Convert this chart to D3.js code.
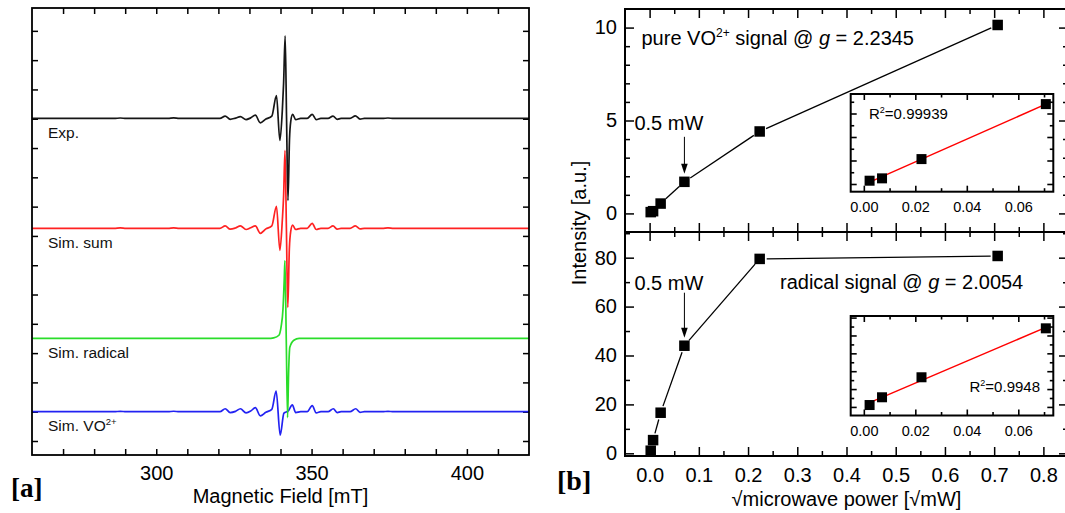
<!DOCTYPE html>
<html><head><meta charset="utf-8">
<script src="https://cdn.jsdelivr.net/npm/d3@7"></script>
<style>body{margin:0;background:#fff} svg{display:block}</style>
</head><body><svg id="c" width="1065" height="513"></svg>
<script>
// ================= DATA =================
// Panel (a): EPR spectra, [field (mT), intensity (a.u.)]
const fieldTickLabels = [300, 350, 400];
const traceNames = ["Exp.", "Sim. sum", "Sim. radical", "Sim. VO"];
const traceOffsets = [11.01, 7.26, 3.5, 1.0];
const expTrace = [[260,0],[286.5,0],[288.4,0.015],[290.3,0],[303.8,0],[305.6,0.02],[307.4,0],[320.5,0],[322.2,0.08],[323.8,-0.03],[325.5,0.01],[327.1,0.06],[328.9,-0.04],[330.4,0.02],[331.9,0.11],[333.5,-0.15],[335.3,-0.02],[337.2,0.08],[338.7,0.78],[339.8,-0.75],[340.6,0.3],[341.0,1.2],[341.5,2.82],[341.95,0],[342.4,-2.8],[342.9,-0.7],[343.3,-0.1],[343.9,0.14],[344.9,-0.04],[346.5,0],[348.6,0],[350.2,0.14],[351.5,-0.04],[353,0],[355.3,0],[356.9,0.08],[358.3,-0.03],[359.5,0],[362.4,0],[364.1,0.09],[365.6,-0.02],[367,0],[372.8,0],[374.6,0.015],[376.4,0],[420,0]];
const sumTrace = [[260,0],[286.5,0],[288.4,0.012],[290.3,0],[303.8,0],[305.6,0.015],[307.4,0],[320.5,0],[322.2,0.08],[323.8,-0.03],[325.5,0.01],[327.1,0.08],[328.9,-0.04],[330.4,0.02],[331.9,0.08],[333.5,-0.17],[335.3,-0.02],[337.2,0.08],[338.7,0.75],[339.8,-0.75],[340.6,0.3],[341.0,1.1],[341.45,2.66],[341.9,0],[342.35,-2.7],[342.85,-0.7],[343.3,-0.1],[343.9,0.11],[344.9,-0.04],[346.5,0],[348.6,0],[350.2,0.17],[351.5,-0.04],[353,0],[355.3,0],[356.9,0.08],[358.3,-0.03],[359.5,0],[362.4,0],[364.1,0.08],[365.6,-0.02],[367,0],[372.8,0],[374.6,0.012],[376.4,0],[420,0]];
const radicalTrace = [[260,0],[336,0],[337.8,0.02],[339.5,0.11],[340.2,0.4],[340.8,1.0],[341.2,2.0],[341.42,2.66],[341.85,0],[342.28,-2.7],[342.6,-1.2],[343.0,-0.3],[344.3,-0.06],[346,0],[420,0]];
const voTrace = [[260,0],[286.5,0],[288.4,0.012],[290.3,0],[303.8,0],[305.6,0.015],[307.4,0],[320.5,0],[322.2,0.1],[323.8,-0.03],[325.5,0.01],[327.1,0.1],[328.9,-0.04],[330.4,0.02],[331.9,0.14],[333.5,-0.14],[335.3,-0.02],[337.2,0.08],[338.6,0.7],[339.9,-0.8],[341.1,-0.05],[342.5,0.03],[343.8,0.23],[344.9,-0.03],[346.5,0],[348.6,0],[350.2,0.21],[351.5,-0.04],[353,0],[355.3,0],[357,0.1],[358.3,-0.03],[359.5,0],[362.4,0],[364.2,0.1],[365.6,-0.02],[367,0],[372.8,0],[374.6,0.012],[376.4,0],[420,0]];

// Panel (b): saturation curves
const sqrtPower = [0.00224, 0.00707, 0.0224, 0.0707, 0.2236, 0.7071];
const vo2Intensity = [0.07, 0.12, 0.53, 1.7, 4.41, 10.14];
const radicalIntensity = [1.06, 5.4, 16.6, 44, 79.5, 80.7];
const insetPoints = 4;                       // first 4 points shown in insets
const powerTickLabels = [0,0.1,0.2,0.3,0.4,0.5,0.6,0.7,0.8];
const vo2TickLabels = [0, 5, 10];
const radTickLabels = [0, 20, 40, 60, 80];
const insetTickLabels = [0, 0.02, 0.04, 0.06];
const r2Values = ["0.99939", "0.9948"];

// ================= DRAW =================
const FONT = "'Liberation Sans', Arial, Helvetica, sans-serif";
const svg = d3.select("#c");

function styleAxis(g, fs) {
  g.attr("font-family", FONT).attr("font-size", fs);
  g.select(".domain").remove();
  g.selectAll(".tick line").attr("stroke", "#000").attr("stroke-width", 1.5);
  g.selectAll(".tick text").attr("fill", "#000");
}

// ---------- Panel (a) ----------
const xA = d3.scaleLinear().domain([260, 420]).range([32, 529]);
const yA = d3.scaleLinear().domain([-0.478, 14.78]).range([455, 8]);
const gA = svg.append("g");
const fieldTicks = d3.range(270, 420, 10);
gA.append("g").attr("transform", "translate(0,455)")
  .call(d3.axisBottom(xA).tickValues(fieldTicks).tickSizeInner(-6).tickSizeOuter(0).tickPadding(10.5)
    .tickFormat(d => fieldTickLabels.includes(d) ? d : ""))
  .call(styleAxis, 20);
gA.append("g").attr("transform", "translate(0,8)")
  .call(d3.axisTop(xA).tickValues(fieldTicks).tickSizeInner(-6).tickSizeOuter(0).tickFormat(""))
  .call(styleAxis, 20);
const yTicksA = d3.range(0, 15);
gA.append("g").attr("transform", "translate(32,0)")
  .call(d3.axisLeft(yA).tickValues(yTicksA).tickSizeInner(-6).tickSizeOuter(0).tickFormat(""))
  .call(styleAxis, 20);
gA.append("g").attr("transform", "translate(529,0)")
  .call(d3.axisRight(yA).tickValues(yTicksA).tickSizeInner(-6).tickSizeOuter(0).tickFormat(""))
  .call(styleAxis, 20);

const traces = [expTrace, sumTrace, radicalTrace, voTrace];
const traceColors = ["#161616", "#ff2222", "#2add2a", "#2222f2"];
const drawOrder = [3, 2, 1, 0];
drawOrder.forEach(i => {
  const off = traceOffsets[i];
  const line = d3.line().x(d => xA(d[0])).y(d => yA(d[1] + off)).curve(d3.curveMonotoneX);
  gA.append("path").attr("d", line(traces[i])).attr("fill", "none")
    .attr("stroke", traceColors[i]).attr("stroke-width", 1.7).attr("stroke-linejoin", "round");
});
traceNames.forEach((n, i) => {
  const t = gA.append("text").attr("x", 48).attr("y", yA(traceOffsets[i]) + 19.5)
    .attr("font-family", FONT).attr("font-size", 15.5).attr("fill", "#111").text(n);
  if (i === 3) t.append("tspan").attr("font-size", 9.5).attr("dy", -6).text("2+");
});
gA.append("rect").attr("x", 32).attr("y", 8).attr("width", 497).attr("height", 447)
  .attr("fill", "none").attr("stroke", "#000").attr("stroke-width", 1.8);
gA.append("text").attr("x", xA(340)).attr("y", 503).attr("text-anchor", "middle")
  .attr("font-family", FONT).attr("font-size", 20).text("Magnetic Field [mT]");
svg.append("text").attr("x", 11).attr("y", 497).attr("font-family", "'Liberation Serif', 'Times New Roman', serif")
  .attr("font-weight", "bold").attr("font-size", 27).text("[a]");

// ---------- Panel (b) ----------
const L = 625, R = 1068, T = 9, M = 232, B = 456;
const xB = d3.scaleLinear().domain([-0.05, 0.85]).range([L, R]);
const yTop = d3.scaleLinear().domain([-1, 11]).range([M, T]);
const yBot = d3.scaleLinear().domain([-1.1, 90.5]).range([B, M]);
const gB = svg.append("g");
const majX = powerTickLabels;
const minX = d3.range(0.05, 0.85, 0.1);

function xTicks(y, dir, vals, len, labels) {
  const ax = (dir === "bottom" ? d3.axisBottom(xB) : d3.axisTop(xB)).tickValues(vals)
    .tickSizeInner(-len).tickSizeOuter(0).tickPadding(12)
    .tickFormat(labels ? d3.format(".1f") : "");
  gB.append("g").attr("transform", `translate(0,${y})`).call(ax).call(styleAxis, 20);
}
xTicks(T, "top", majX, 9, false); xTicks(T, "top", minX, 5, false);
xTicks(M, "bottom", majX, 9, false); xTicks(M, "bottom", minX, 5, false);
xTicks(M, "top", majX, 9, false); xTicks(M, "top", minX, 5, false);
xTicks(B, "bottom", majX, 9, true); xTicks(B, "bottom", minX, 5, false);

function yTicks(scale, vals, len, labels, side) {
  const ax = (side === "left" ? d3.axisLeft(scale) : d3.axisRight(scale)).tickValues(vals)
    .tickSizeInner(-len).tickSizeOuter(0).tickPadding(8).tickFormat(labels ? d3.format("d") : "");
  gB.append("g").attr("transform", `translate(${side === "left" ? L : R},0)`).call(ax).call(styleAxis, 20);
}
const vo2Minor = d3.range(1, 11).filter(v => v % 5 !== 0);
const radMinor = [10, 30, 50, 70, 90];
["left", "right"].forEach(s => {
  yTicks(yTop, vo2TickLabels, 9, s === "left", s); yTicks(yTop, vo2Minor, 5, false, s);
  yTicks(yBot, radTickLabels, 9, s === "left", s); yTicks(yBot, radMinor, 5, false, s);
});

// data lines with gaps around symbols
function gapLine(g, pts, gap, color, w) {
  for (let i = 0; i < pts.length - 1; i++) {
    const [x0, y0] = pts[i], [x1, y1] = pts[i + 1];
    const dx = x1 - x0, dy = y1 - y0, len = Math.hypot(dx, dy);
    if (len <= 2 * gap + 1) continue;
    const ux = dx / len, uy = dy / len;
    g.append("line").attr("x1", x0 + ux * gap).attr("y1", y0 + uy * gap)
      .attr("x2", x1 - ux * gap).attr("y2", y1 - uy * gap)
      .attr("stroke", color).attr("stroke-width", w);
  }
}
function squares(g, pts, s) {
  g.selectAll(null).data(pts).join("rect")
    .attr("x", d => d[0] - s / 2).attr("y", d => d[1] - s / 2)
    .attr("width", s).attr("height", s).attr("fill", "#000");
}
const topPts = sqrtPower.map((x, i) => [xB(x), yTop(vo2Intensity[i])]);
const botPts = sqrtPower.map((x, i) => [xB(x), yBot(radicalIntensity[i])]);
gapLine(gB, topPts, 7, "#000", 1.3);
gapLine(gB, botPts, 7, "#000", 1.3);
squares(gB, topPts, 10.5);
squares(gB, botPts, 10.5);

// frame
gB.append("rect").attr("x", L).attr("y", T).attr("width", R - L).attr("height", B - T)
  .attr("fill", "none").attr("stroke", "#000").attr("stroke-width", 2);
gB.append("line").attr("x1", L).attr("x2", R).attr("y1", M).attr("y2", M)
  .attr("stroke", "#000").attr("stroke-width", 2);

// annotations
function annot(x, y, parts) {
  const t = gB.append("text").attr("x", x).attr("y", y).attr("font-family", FONT).attr("font-size", 20).attr("fill", "#000");
  parts.forEach(p => {
    const s = t.append("tspan").text(p.t);
    if (p.sup) s.attr("font-size", 12).attr("dy", -8);
    if (p.down) s.attr("dy", 8);
    if (p.it) s.attr("font-style", "italic");
  });
  return t;
}
annot(641.5, 44.5, [{t: "pure VO"}, {t: "2+", sup: true}, {t: " signal @ ", down: true}, {t: "g", it: true}, {t: " = 2.2345"}]);
annot(780, 289, [{t: "radical signal @ "}, {t: "g", it: true}, {t: " = 2.0054"}]);

function arrow(pt, labelY, tailLen) {
  const x = pt[0], tip = pt[1] - 8;
  gB.append("line").attr("x1", x).attr("x2", x).attr("y1", tip - tailLen).attr("y2", tip - 6)
    .attr("stroke", "#000").attr("stroke-width", 1);
  gB.append("path").attr("d", `M${x - 3.3},${tip - 10}L${x + 3.3},${tip - 10}L${x},${tip}Z`).attr("fill", "#000");
  gB.append("text").attr("x", x - 50).attr("y", labelY).attr("font-family", FONT).attr("font-size", 20).text("0.5 mW");
}
arrow(topPts[3], 130, 37);
arrow(botPts[3], 289.5, 45);

// axis titles
svg.append("text").attr("transform", `translate(586,223) rotate(-90)`).attr("text-anchor", "middle")
  .attr("font-family", FONT).attr("font-size", 20).text("Intensity [a.u.]");
svg.append("text").attr("x", 846.5).attr("y", 506).attr("text-anchor", "middle")
  .attr("font-family", FONT).attr("font-size", 20).text("\u221Amicrowave power [\u221AmW]");
svg.append("text").attr("x", 557).attr("y", 490).attr("font-family", "'Liberation Serif', 'Times New Roman', serif")
  .attr("font-weight", "bold").attr("font-size", 28).text("[b]");

// ---------- Insets ----------
const xI = d3.scaleLinear().domain([-0.0051, 0.0736]).range([850.7, 1053.3]);
const insets = [
  {vals: vo2Intensity, y: d3.scaleLinear().domain([-0.164, 1.915]).range([191.7, 94]), maj: [0, 0.5, 1, 1.5], min: [0.25, 0.75, 1.25, 1.75], r2: r2Values[0], lx: 869, ly: 119, anchor: "start"},
  {vals: radicalIntensity, y: d3.scaleLinear().domain([-4.8, 50.9]).range([415.5, 316]), maj: [0, 10, 20, 30, 40, 50], min: [5, 15, 25, 35, 45], r2: r2Values[1], lx: 1040, ly: 392, anchor: "end"}
];
const insetXMinor = [0.01, 0.03, 0.05, 0.07];
insets.forEach(ins => {
  const [yb, yt] = ins.y.range();
  const [xl, xr] = xI.range();
  const g = svg.append("g");
  g.append("rect").attr("x", xl).attr("y", yt).attr("width", xr - xl).attr("height", yb - yt).attr("fill", "#fff");
  const ax = (a, tr) => g.append("g").attr("transform", tr).call(a).call(styleAxis, 14.5);
  ax(d3.axisBottom(xI).tickValues(insetTickLabels).tickSizeInner(-6).tickSizeOuter(0).tickPadding(10).tickFormat(d3.format(".2f")), `translate(0,${yb})`);
  ax(d3.axisBottom(xI).tickValues(insetXMinor).tickSizeInner(-3.5).tickSizeOuter(0).tickFormat(""), `translate(0,${yb})`);
  ax(d3.axisTop(xI).tickValues(insetTickLabels).tickSizeInner(-6).tickSizeOuter(0).tickFormat(""), `translate(0,${yt})`);
  ax(d3.axisTop(xI).tickValues(insetXMinor).tickSizeInner(-3.5).tickSizeOuter(0).tickFormat(""), `translate(0,${yt})`);
  [["left", xl], ["right", xr]].forEach(([s, xx]) => {
    const mk = s === "left" ? d3.axisLeft : d3.axisRight;
    ax(mk(ins.y).tickValues(ins.maj).tickSizeInner(-6).tickSizeOuter(0).tickFormat(""), `translate(${xx},0)`);
    ax(mk(ins.y).tickValues(ins.min).tickSizeInner(-3.5).tickSizeOuter(0).tickFormat(""), `translate(${xx},0)`);
  });
  g.selectAll(".tick line").attr("stroke-width", 1.6);
  // linear fit (least squares) over the inset points
  const xs = sqrtPower.slice(0, insetPoints), ys = ins.vals.slice(0, insetPoints);
  const mx = d3.mean(xs), my = d3.mean(ys);
  const slope = d3.sum(xs, (x, i) => (x - mx) * (ys[i] - my)) / d3.sum(xs, x => (x - mx) ** 2);
  const icpt = my - slope * mx;
  const x0 = xs[0], x1 = xs[xs.length - 1];
  g.append("line").attr("x1", xI(x0)).attr("y1", ins.y(icpt + slope * x0))
    .attr("x2", xI(x1)).attr("y2", ins.y(icpt + slope * x1)).attr("stroke", "#f00").attr("stroke-width", 1.5);
  squares(g, xs.map((x, i) => [xI(x), ins.y(ys[i])]), 10);
  g.append("rect").attr("x", xl).attr("y", yt).attr("width", xr - xl).attr("height", yb - yt)
    .attr("fill", "none").attr("stroke", "#000").attr("stroke-width", 2);
  const t = g.append("text").attr("x", ins.lx).attr("y", ins.ly).attr("text-anchor", ins.anchor)
    .attr("font-family", FONT).attr("font-size", 15);
  t.append("tspan").text("R");
  t.append("tspan").attr("font-size", 9).attr("dy", -6).text("2");
  t.append("tspan").attr("dy", 6).text("=" + ins.r2);
});
</script></body></html>
